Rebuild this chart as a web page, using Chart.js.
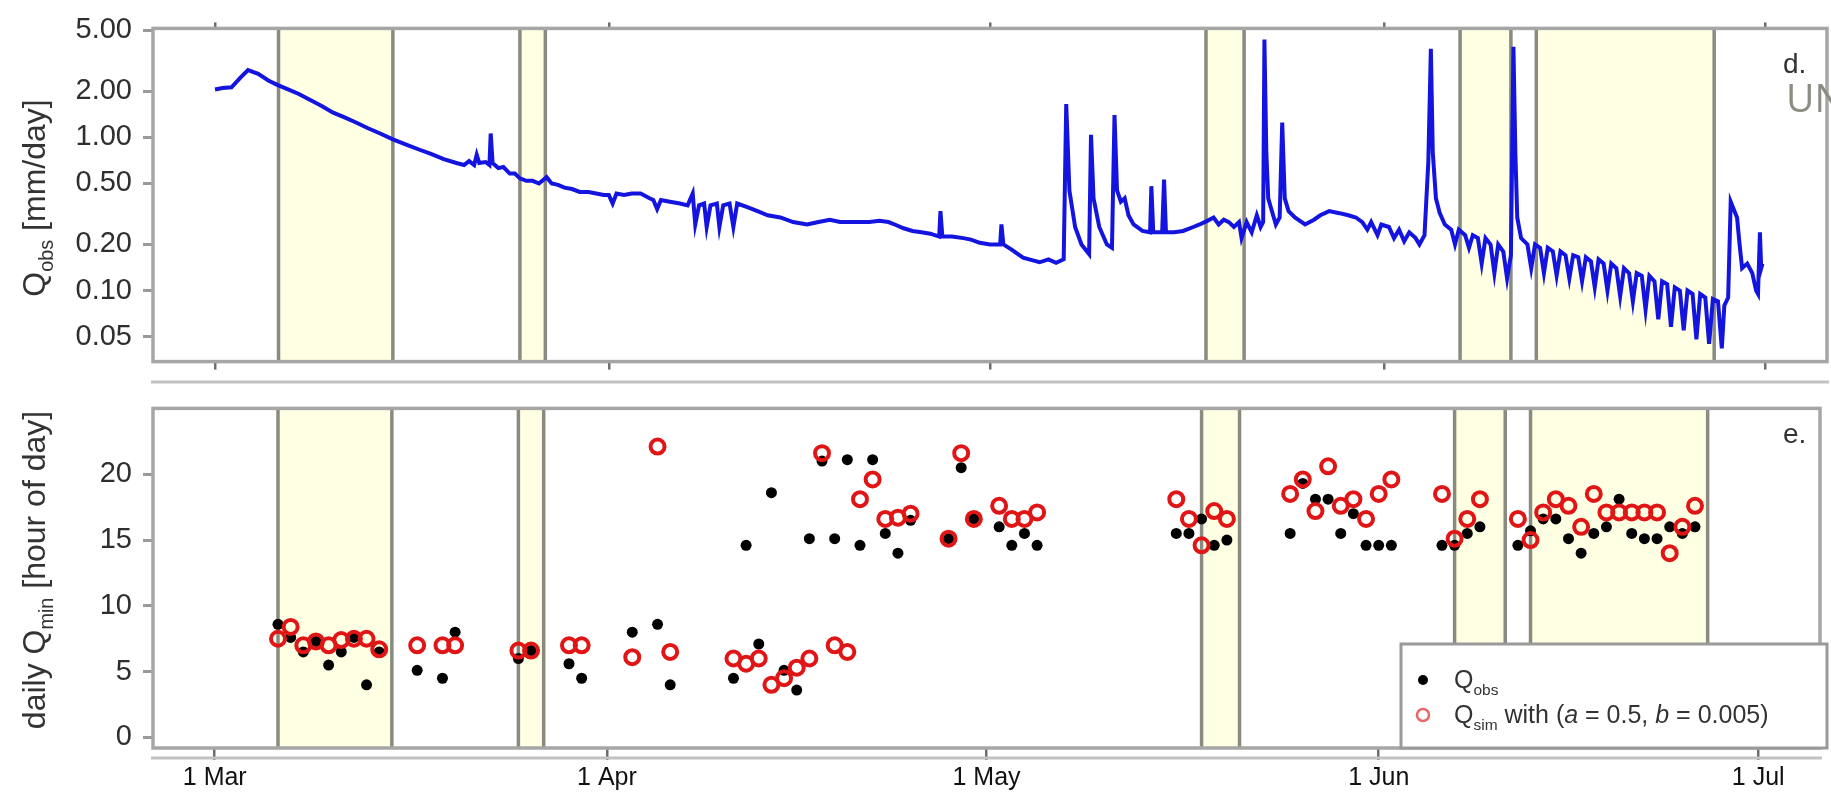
<!DOCTYPE html>
<html>
<head>
<meta charset="utf-8">
<script src="https://cdn.jsdelivr.net/npm/chart.js@4.4.1/dist/chart.umd.min.js"></script>
<style>
  html, body { margin: 0; padding: 0; background: #ffffff; }
  #wrap { position: relative; width: 1831px; height: 800px; overflow: hidden; background: #fff; }
  canvas { position: absolute; left: 0; }
  #top { top: 0; }
  #bot { top: 380px; }
</style>
</head>
<body>
<div id="wrap">
  <canvas id="top" width="1831" height="390"></canvas>
  <canvas id="bot" width="1831" height="420"></canvas>
</div>
<script>
// ---------------- DATA ----------------
// x values are days since 1 March
const monthTickDays = [0, 31, 61, 92, 122];
const monthTickLabels = ['1 Mar', '1 Apr', '1 May', '1 Jun', '1 Jul'];
const qTickValues = [0.05, 0.1, 0.2, 0.5, 1, 2, 5];
const hourTickValues = [0, 5, 10, 15, 20];
const shadeStartDay = [5, 24, 78, 98, 104];
const shadeEndDay = [14, 26, 81, 102, 118];

// observed discharge Q_obs [mm/day]: [day, value]
const flowPoints = [
 [0,2.05],[0.6,2.1],[1.3,2.12],[2.0,2.45],[2.6,2.75],[3.4,2.6],[4.2,2.35],[4.9,2.2],[5.8,2.05],[6.6,1.92],
 [7.5,1.75],[8.4,1.6],[9.3,1.45],[10.2,1.35],[11.1,1.25],[12.0,1.15],[13.0,1.06],[14.0,0.97],[15.0,0.9],[16.1,0.83],
 [17.0,0.78],[18.0,0.72],[19.0,0.68],[19.6,0.66],[20.0,0.7],[20.4,0.66],[20.6,0.77],[20.8,0.68],[21.3,0.69],[21.6,0.66],
 [21.7,1.06],[21.85,0.68],[22.3,0.63],[22.7,0.64],[23.2,0.58],[23.6,0.58],[24.0,0.54],[24.5,0.52],[25.0,0.52],[25.5,0.5],
 [26.1,0.55],[26.5,0.5],[27.0,0.49],[27.5,0.47],[28.1,0.46],[28.7,0.44],[29.4,0.44],[30.0,0.43],[30.6,0.42],[31.0,0.42],
 [31.3,0.37],[31.6,0.43],[32.2,0.42],[32.8,0.43],[33.5,0.43],[34.2,0.4],[34.5,0.39],[34.8,0.34],[35.1,0.39],[35.8,0.38],
 [36.6,0.37],[37.2,0.36],[37.6,0.43],[37.8,0.27],[38.1,0.36],[38.5,0.37],[38.7,0.26],[39.0,0.36],[39.5,0.37],[39.7,0.26],
 [40.0,0.36],[40.5,0.37],[40.8,0.26],[41.1,0.37],[41.9,0.35],[42.7,0.33],[43.5,0.31],[44.5,0.3],[45.5,0.28],[46.6,0.27],
 [47.5,0.28],[48.4,0.29],[49.2,0.28],[50.0,0.28],[50.8,0.28],[51.5,0.28],[52.3,0.285],[53.0,0.28],[53.5,0.27],[54.2,0.255],
 [54.9,0.245],[55.6,0.24],[56.3,0.235],[57.0,0.225],[57.1,0.33],[57.25,0.225],[58.0,0.225],[58.9,0.22],[59.5,0.215],[60.2,0.205],
 [61.0,0.2],[61.8,0.2],[61.9,0.27],[62.05,0.2],[62.7,0.185],[63.6,0.164],[64.3,0.158],[64.9,0.153],[65.6,0.16],[66.2,0.152],
 [66.8,0.16],[67.0,1.65],[67.25,0.45],[67.7,0.26],[68.2,0.2],[68.8,0.173],[68.95,1.04],[69.15,0.4],[69.6,0.26],[70.2,0.2],
 [70.6,0.19],[70.8,1.4],[71.0,0.45],[71.3,0.38],[71.6,0.4],[71.9,0.31],[72.3,0.27],[73.0,0.245],[73.6,0.24],[73.7,0.48],
 [73.85,0.24],[74.55,0.24],[74.7,0.53],[74.85,0.24],[75.5,0.24],[76.2,0.245],[77.0,0.26],[77.5,0.27],[78.1,0.285],[78.6,0.3],
 [79.0,0.27],[79.4,0.29],[79.8,0.28],[80.2,0.26],[80.6,0.28],[80.8,0.22],[81.2,0.28],[81.6,0.24],[82.0,0.31],[82.3,0.26],
 [82.5,0.28],[82.6,4.35],[82.75,0.8],[82.9,0.4],[83.1,0.35],[83.5,0.27],[83.8,0.3],[84.0,1.25],[84.2,0.4],[84.5,0.33],
 [85.0,0.3],[85.8,0.27],[86.5,0.29],[87.0,0.31],[87.7,0.33],[88.5,0.32],[89.2,0.31],[89.8,0.3],[90.3,0.28],[90.7,0.25],
 [91.0,0.28],[91.5,0.23],[91.8,0.27],[92.4,0.26],[92.8,0.22],[93.2,0.25],[93.6,0.21],[94.0,0.24],[94.5,0.22],[94.8,0.2],
 [95.2,0.23],[95.5,0.69],[95.7,3.79],[95.85,0.8],[96.1,0.4],[96.4,0.32],[96.8,0.27],[97.3,0.25],[97.6,0.2],[97.9,0.25],
 [98.4,0.23],[98.7,0.19],[99.0,0.23],[99.4,0.22],[99.7,0.15],[100.0,0.22],[100.4,0.2],[100.7,0.13],[101.0,0.2],[101.4,0.18],
 [101.7,0.12],[102.0,0.17],[102.2,3.9],[102.35,0.8],[102.5,0.3],[102.8,0.22],[103.3,0.2],[103.6,0.14],[103.9,0.2],[104.3,0.19],
 [104.6,0.13],[104.9,0.19],[105.3,0.18],[105.6,0.125],[105.9,0.18],[106.3,0.17],[106.6,0.12],[106.9,0.17],[107.3,0.165],[107.6,0.115],
 [107.9,0.165],[108.3,0.155],[108.6,0.105],[108.9,0.16],[109.3,0.15],[109.6,0.1],[109.9,0.15],[110.3,0.14],[110.6,0.092],[110.9,0.14],
 [111.3,0.13],[111.6,0.085],[111.9,0.13],[112.3,0.125],[112.6,0.075],[112.9,0.125],[113.3,0.115],[113.6,0.065],[113.9,0.115],[114.3,0.11],
 [114.6,0.058],[114.9,0.105],[115.3,0.1],[115.6,0.055],[115.9,0.1],[116.3,0.095],[116.6,0.048],[116.9,0.095],[117.3,0.09],[117.6,0.045],
 [117.9,0.088],[118.3,0.085],[118.6,0.042],[118.8,0.08],[119.1,0.09],[119.3,0.38],[119.6,0.33],[119.8,0.3],[120.0,0.2],[120.2,0.14],
 [120.6,0.15],[121.0,0.13],[121.3,0.1],[121.45,0.095],[121.6,0.24],[121.7,0.14],[121.8,0.15]
];

// daily hour of minimum discharge, observed
const obsDays = [5,6,7,8,9,10,11,12,13,16,18,19,24,25,28,29,33,35,36,41,42,43,44,45,46,47,48,49,50,51,52,53,54,55,58,59,60,62,63,64,65,76,77,78,79,80,85,86,87,88,89,90,91,92,93,97,98,99,100,103,104,105,106,107,108,109,110,111,112,113,114,115,116,117];
const obsHour = [8.6,7.6,6.5,7.3,5.5,6.5,7.6,4.0,6.5,5.1,4.5,8.0,6.0,6.6,5.6,4.5,8.0,8.6,4.0,4.5,14.6,7.1,18.6,5.1,3.6,15.1,21.0,15.1,21.1,14.6,21.1,15.5,14.0,16.5,15.1,20.5,16.6,16.0,14.6,15.5,14.6,15.5,15.5,16.6,14.6,15.0,15.5,19.3,18.1,18.1,15.5,17.0,14.6,14.6,14.6,14.6,14.6,15.5,16.0,14.6,15.7,16.6,16.6,15.1,14.0,15.5,16.0,18.1,15.5,15.1,15.1,16.0,15.5,16.0];
// simulated with (a = 0.5, b = 0.005)
const simDays = [5,6,7,8,9,10,11,12,13,16,18,19,24,25,28,29,33,35,36,41,42,43,44,45,46,47,48,49,50,51,52,53,54,55,58,59,60,62,63,64,65,76,77,78,79,80,85,86,87,88,89,90,91,92,93,97,98,99,100,103,104,105,106,107,108,109,110,111,112,113,114,115,116,117];
const simHour = [7.5,8.4,7.0,7.3,7.0,7.4,7.5,7.5,6.7,7.0,7.0,7.0,6.6,6.6,7.0,7.0,6.1,22.1,6.5,6.0,5.6,6.0,4.0,4.5,5.3,6.0,21.6,7.0,6.5,18.1,19.6,16.6,16.7,17.0,15.1,21.6,16.6,17.6,16.6,16.6,17.1,18.1,16.6,14.6,17.2,16.6,18.5,19.6,17.2,20.6,17.6,18.1,16.6,18.5,19.6,18.5,15.1,16.6,18.1,16.6,15.0,17.1,18.1,17.6,16.0,18.5,17.1,17.1,17.1,17.1,17.1,14.0,16.0,17.6];

// ---------------- STYLE / LAYOUT ----------------
const FONT = "'Liberation Sans', Arial, Helvetica, sans-serif";
const X_MIN = -4.88, X_MAX = 126.88;
const AXIS_LEFT = 153;

function drawRich(ctx, segs, x, y, size, color, align) {
  // y is the baseline
  const parts = segs.map(s => {
    const fs = s.sub ? size * 0.62 : size;
    const font = (s.italic ? 'italic ' : '') + fs + 'px ' + FONT;
    ctx.font = font;
    return { t: s.t, font, w: ctx.measureText(s.t).width, dy: s.sub ? size * 0.26 : 0 };
  });
  const total = parts.reduce((a, p) => a + p.w, 0);
  let cx = align === 'center' ? x - total / 2 : x;
  ctx.fillStyle = color;
  ctx.textBaseline = 'alphabetic';
  ctx.textAlign = 'left';
  for (const p of parts) {
    ctx.font = p.font;
    ctx.fillText(p.t, cx, y + p.dy);
    cx += p.w;
  }
}

function drawVTitle(ctx, segs, cx, cy, size, color) {
  ctx.save();
  ctx.translate(cx, cy);
  ctx.rotate(-Math.PI / 2);
  drawRich(ctx, segs, 0, size * 0.36, size, color, 'center');
  ctx.restore();
}

const shadePlugin = {
  id: 'shade',
  beforeDatasetsDraw(chart) {
    const { ctx, chartArea: a } = chart;
    const x = chart.scales.x;
    ctx.save();
    ctx.beginPath();
    ctx.rect(a.left, a.top, a.right - a.left, a.bottom - a.top);
    ctx.clip();
    for (let i = 0; i < shadeStartDay.length; i++) {
      const x0 = x.getPixelForValue(shadeStartDay[i]);
      const x1 = x.getPixelForValue(shadeEndDay[i]);
      ctx.fillStyle = '#ffffe4';
      ctx.fillRect(x0, a.top, x1 - x0, a.bottom - a.top);
      ctx.strokeStyle = '#8a8a80';
      ctx.lineWidth = 3.5;
      ctx.beginPath();
      ctx.moveTo(x0, a.top); ctx.lineTo(x0, a.bottom);
      ctx.moveTo(x1, a.top); ctx.lineTo(x1, a.bottom);
      ctx.stroke();
    }
    ctx.restore();
  }
};

function frame(chart, extraLineY) {
  const { ctx, chartArea: a } = chart;
  ctx.save();
  ctx.strokeStyle = '#a6a6a6';
  ctx.lineWidth = 3.5;
  ctx.strokeRect(a.left, a.top, a.right - a.left, a.bottom - a.top);
  if (extraLineY !== null) {
    ctx.strokeStyle = '#c2c2c2';
    ctx.lineWidth = 3;
    ctx.beginPath();
    ctx.moveTo(a.left - 2, extraLineY);
    ctx.lineTo(a.right + 2, extraLineY);
    ctx.stroke();
  }
  ctx.restore();
}

const topDeco = {
  id: 'topDeco',
  afterDraw(chart) {
    const ctx = chart.ctx;
    frame(chart, 382);
    drawVTitle(ctx, [{ t: 'Q' }, { t: 'obs', sub: true }, { t: ' [mm/day]' }], 33, 198, 32, '#333');
    ctx.save();
    drawRich(ctx, [{ t: 'd.' }], 1783, 73, 28, '#333', 'left');
    ctx.font = "39px 'Open Sans', 'Noto Sans', sans-serif";
    ctx.fillStyle = '#8c8c82';
    ctx.textBaseline = 'alphabetic';
    ctx.fillText('UN', 1786, 112);
    ctx.restore();
  }
};

const botDeco = {
  id: 'botDeco',
  afterDraw(chart) {
    const ctx = chart.ctx;
    frame(chart, 378);
    drawVTitle(ctx, [{ t: 'daily Q' }, { t: 'min', sub: true }, { t: ' [hour of day]' }], 33, 190, 32, '#333');
    drawRich(ctx, [{ t: 'e.' }], 1783, 63, 28, '#333', 'left');
    // legend box
    const L = 1401, T = 264, R = 1827, B = 368;
    ctx.save();
    ctx.fillStyle = '#ffffff';
    ctx.fillRect(L, T, R - L, B - T);
    ctx.strokeStyle = '#9a9a9a';
    ctx.lineWidth = 3;
    ctx.strokeRect(L, T, R - L, B - T);
    ctx.fillStyle = '#000';
    ctx.beginPath(); ctx.arc(1423, 300, 5, 0, Math.PI * 2); ctx.fill();
    ctx.strokeStyle = '#e46a6a';
    ctx.lineWidth = 2.5;
    ctx.beginPath(); ctx.arc(1423, 335, 6, 0, Math.PI * 2); ctx.stroke();
    ctx.restore();
    drawRich(ctx, [{ t: 'Q' }, { t: 'obs', sub: true }], 1454, 308, 25, '#333', 'left');
    drawRich(ctx, [{ t: 'Q' }, { t: 'sim', sub: true }, { t: ' with (' }, { t: 'a', italic: true }, { t: ' = 0.5, ' }, { t: 'b', italic: true }, { t: ' = 0.005)' }], 1454, 343, 25, '#333', 'left');
  }
};

function monthTicks(scale) { scale.ticks = monthTickDays.map(v => ({ value: v })); }

const common = {
  responsive: false,
  animation: false,
  devicePixelRatio: 1,
  events: [],
  plugins: { legend: { display: false }, tooltip: { enabled: false } }
};

// ---------------- TOP CHART ----------------
new Chart(document.getElementById('top'), {
  type: 'line',
  data: {
    datasets: [{
      data: flowPoints.map(p => ({ x: p[0], y: p[1] })),
      borderColor: '#1414e0',
      borderWidth: 4,
      pointRadius: 0,
      tension: 0,
      fill: false
    }]
  },
  options: Object.assign({}, common, {
    layout: { padding: { left: 0, right: 4, top: 0, bottom: 0 } },
    scales: {
      x: {
        type: 'linear', position: 'bottom', min: X_MIN, max: X_MAX,
        afterBuildTicks: monthTicks,
        ticks: { display: false },
        grid: { display: true, drawOnChartArea: false, drawTicks: true, tickLength: 8, color: '#6e6e6e', lineWidth: 2.5 },
        border: { display: false },
        afterFit(s) { s.height = 10; }
      },
      x2: {
        type: 'linear', position: 'top', min: X_MIN, max: X_MAX,
        afterBuildTicks: monthTicks,
        ticks: { display: false },
        grid: { display: true, drawOnChartArea: false, drawTicks: true, tickLength: 6, color: '#6e6e6e', lineWidth: 2.5 },
        border: { display: false },
        afterFit(s) { s.height = 18; }
      },
      y: {
        type: 'logarithmic', min: 0.0344, max: 5.14,
        afterBuildTicks(s) { s.ticks = qTickValues.map(v => ({ value: v })); },
        ticks: {
          autoSkip: false, padding: 11, color: '#2e2e2e',
          font: { family: FONT, size: 29 },
          callback: v => Number(v).toFixed(2)
        },
        grid: { display: true, drawOnChartArea: false, drawTicks: true, tickLength: 10, color: '#999', lineWidth: 3 },
        border: { display: false },
        afterFit(s) { s.width = AXIS_LEFT; }
      }
    }
  }),
  plugins: [shadePlugin, topDeco]
});

// ---------------- BOTTOM CHART ----------------
new Chart(document.getElementById('bot'), {
  type: 'scatter',
  data: {
    datasets: [
      {
        label: 'Q_sim',
        order: 0,
        data: simDays.map((d, i) => ({ x: d, y: simHour[i] })),
        pointRadius: 7,
        borderWidth: 4,
        borderColor: '#e01616',
        backgroundColor: 'rgba(0,0,0,0)'
      },
      {
        label: 'Q_obs',
        order: 1,
        data: obsDays.map((d, i) => ({ x: d, y: obsHour[i] })),
        pointRadius: 5.5,
        borderWidth: 0,
        backgroundColor: '#000000'
      }
    ]
  },
  options: Object.assign({}, common, {
    layout: { padding: { left: 0, right: 4, top: 9, bottom: 0 } },
    scales: {
      x: {
        type: 'linear', position: 'bottom', min: X_MIN, max: X_MAX,
        afterBuildTicks: monthTicks,
        ticks: {
          autoSkip: false, maxRotation: 0, padding: 3, color: '#111',
          font: { family: FONT, size: 25 },
          callback: v => monthTickLabels[monthTickDays.indexOf(v)]
        },
        grid: { display: true, drawOnChartArea: false, drawTicks: true, tickLength: 12, color: '#6e6e6e', lineWidth: 2.5 },
        border: { display: false },
        afterFit(s) { s.height = 52; }
      },
      y: {
        type: 'linear', min: -0.8, max: 25,
        afterBuildTicks(s) { s.ticks = hourTickValues.map(v => ({ value: v })); },
        ticks: {
          autoSkip: false, padding: 11, color: '#2e2e2e',
          font: { family: FONT, size: 29 }
        },
        grid: { display: true, drawOnChartArea: false, drawTicks: true, tickLength: 10, color: '#999', lineWidth: 3 },
        border: { display: false },
        afterFit(s) { s.width = AXIS_LEFT; }
      }
    }
  }),
  plugins: [shadePlugin, botDeco]
});
</script>
</body>
</html>
